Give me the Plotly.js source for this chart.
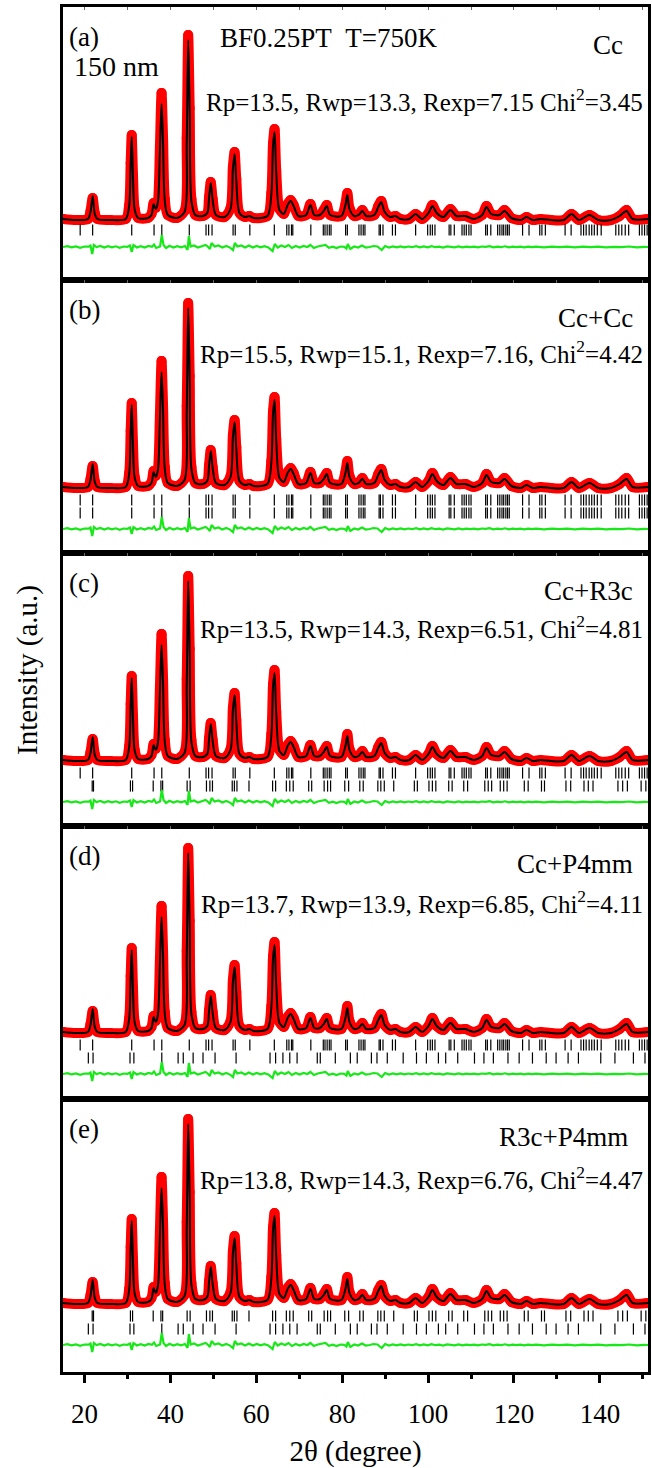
<!DOCTYPE html>
<html>
<head>
<meta charset="utf-8">
<script src="https://cdn.plot.ly/plotly-3.0.1.min.js"></script>
<style>html,body{margin:0;padding:0;background:#fff;}#chart{width:652px;height:1468px;}</style>
</head>
<body>
<div id="chart"></div>
<script>
// ---------------- DATA ----------------
const obsX = [15.0,18.0,20.8,21.4,21.9,22.4,23.0,26.0,29.6,30.4,30.75,31.0,31.3,31.7,32.5,34.8,35.6,36.1,36.6,37.1,37.55,37.95,38.3,38.7,39.4,41.5,43.3,43.8,44.15,44.5,44.9,45.8,47.6,48.6,49.0,49.4,49.85,50.6,52.6,54.0,54.55,54.95,55.35,56.1,57.4,58.4,59.4,62.6,63.5,63.9,64.25,64.65,65.4,66.4,67.3,68.0,68.7,69.8,71.6,72.6,73.5,74.8,75.7,76.4,77.2,79.8,80.7,81.2,81.7,82.8,83.8,84.7,85.6,87.5,88.4,89.1,89.9,91.2,92.4,93.6,95.6,97.1,98.6,100.1,101.0,102.0,103.6,105.2,106.6,108.7,110.6,112.6,113.6,114.7,116.6,117.8,119.4,121.6,122.9,124.4,126.2,128.6,131.6,133.4,135.1,137.6,139.6,142.6,144.6,146.2,147.6,151.2];
const obsY = [4,3,4,12,25,10,4,3,4,18,60,88,48,14,5,5,9,20,15,22,75,130,85,24,8,5,12,85,188,115,24,8,7,10,26,41,24,8,6,15,56,71,44,10,6,7,5,7,30,80,94,52,14,9,19,23,18,7,8,19,8,8,13,18,8,7,18,30,15,7,8,13,7,8,17,22,11,6,7,4,4,9,4,10,18,10,6,14,7,7,4,8,17,9,8,13,5,3,6,3,4,3,3,9,3,8,3,3,7,13,4,4];
const calcY = [4,3,4,11,27,9,4,3,4,17,58,86,46,13,5,5,8,19,14,21,70,119,80,22,8,5,11,80,183,110,22,8,7,10,25,40,23,8,6,14,54,69,42,10,6,7,5,7,28,78,91,50,13,9,18,22,17,7,8,18,8,8,12,17,8,7,17,28,14,7,8,12,7,8,16,21,11,6,7,4,4,9,4,10,17,10,6,13,7,7,4,8,16,9,8,12,5,3,6,3,4,3,3,9,3,8,3,3,7,12,4,4];

const diffX = [15,16,17,18,19,20,21,21.4,21.8,22.2,22.8,23.7,24.6,25.5,26.4,27.3,28.2,29.1,30.0,30.6,31.0,31.4,32.2,33.1,34.0,34.9,35.7,36.2,36.7,37.6,38.0,38.4,39.0,39.8,40.7,41.6,42.5,43.4,44.0,44.3,44.7,45.5,46.4,47.3,48.2,48.8,49.2,49.6,50.3,51.2,52.1,53.0,53.9,54.6,55.0,55.6,56.5,57.4,58.3,59.2,60.1,61.0,61.9,62.8,63.8,64.3,65.0,65.8,66.7,67.5,68.3,69.2,70.1,71.0,71.9,72.6,73.4,74.3,75.2,76.1,76.9,77.8,78.7,79.6,80.5,81.0,81.3,81.9,82.8,83.7,84.6,85.5,86.4,87.3,88.2,89.2,90.0,90.9,91.8,92.7,93.6,94.5,95.4,96.3,97.2,98.1,99.0,99.9,100.8,101.7,102.6,103.5,104.4,105.3,106.2,107.1,108.0,108.9,109.8,110.7,111.6,112.5,113.4,114.3,115.2,116.1,117.0,117.9,118.8,119.7,120.6,121.5,122.4,123.3,124.2,125.1,127.0,128.8,130.6,132.4,134.2,136.0,137.8,139.6,141.4,143.2,145.0,146.8,148.6,150.4,151.2];
const diffY = [0,0.8,-0.4,0.6,-0.8,0.5,0.3,1.5,-7,2,0,1,-0.6,0.8,-0.3,0.7,-0.8,0.5,0.2,1.5,-5,2,-0.5,0.8,-0.6,1,0.2,2.5,-1,0.5,12,2,-1,1.2,-0.5,0.8,-0.4,1,-3,11,0.5,1.5,-0.5,1,2,0,-2,4,0.5,1.5,-0.5,1,-0.6,-3,4,0.5,1.5,-0.5,1.5,-0.5,1,-0.4,0.8,-0.5,-4,3,-0.5,1.5,0,2,-1,1,-0.5,1,0,2,-1,0.5,1.5,2,-0.8,0.4,-1,0.5,0.2,-1.5,3,-2,0.5,-0.5,1.5,-0.5,0,1,0.5,-3,1,-0.5,0.5,-0.4,0.6,-0.3,0.5,-0.2,0.8,-0.4,0.5,-0.3,0.9,-0.2,0.4,-0.5,0.6,0.2,-0.4,0.5,-0.3,0.4,-0.2,0.3,-0.4,0.5,0.2,0.8,-0.3,0.4,-0.2,0.7,-0.3,0.3,-0.2,0.4,-0.3,0.3,-0.2,0.3,-0.3,0.3,-0.2,0.4,-0.3,0.3,-0.2,0.3,-0.3,0.2,-0.2,0.5,-0.3,0.2,0];

const braggCc = [19.0,21.9,31.0,36.2,38.0,44.4,48.3,48.9,49.7,54.6,55.1,58.5,64.2,67.1,67.6,68.2,68.5,72.7,75.6,76.0,76.5,77.0,77.4,80.8,81.2,83.9,84.4,84.9,85.3,88.6,88.9,89.5,91.7,92.4,97.1,99.9,100.5,101.0,101.6,104.9,105.3,106.1,107.9,108.4,108.9,109.5,110.0,113.4,113.8,114.6,116.2,116.7,117.2,117.6,118.1,118.5,118.9,122.0,123.5,126.0,126.5,127.3,131.9,133.3,135.6,136.2,136.8,137.5,138.1,138.7,139.4,140.3,143.7,144.4,145.1,145.9,146.7,149.2,149.8,150.4,151.0];
const braggR3c = [21.8,22.1,30.7,31.2,36.0,37.8,38.2,43.9,44.6,48.4,49.2,49.8,54.4,54.9,55.5,58.3,63.8,64.5,67.0,67.8,68.6,72.2,72.9,75.8,76.6,77.3,80.6,81.5,84.1,84.9,88.3,89.0,89.8,92.0,96.8,97.5,100.2,101.0,101.8,104.8,105.6,108.3,109.2,113.2,114.0,114.8,116.8,117.6,118.4,122.4,123.3,126.4,127.1,132.1,133.2,136.3,137.3,138.4,144.2,145.3,146.4,149.6,150.7];
const braggP4mm = [20.9,22.0,30.6,31.5,38.0,41.8,43.0,45.3,47.6,50.4,55.3,63.2,64.5,66.2,67.8,69.5,74.2,74.9,78.4,81.9,83.5,86.8,88.1,90.5,94.2,97.3,99.6,102.4,104.1,106.9,110.8,113.0,115.2,118.6,121.2,124.3,127.5,129.8,132.6,135.0,140.2,143.5,147.8,150.5];

const panelLetters = ['(a)','(b)','(c)','(d)','(e)'];
const phaseLabels = ['Cc','Cc+Cc','Cc+R3c','Cc+P4mm','R3c+P4mm'];
const fitStats = [
  'Rp=13.5, Rwp=13.3, Rexp=7.15 Chi<sup>2</sup>=3.45',
  'Rp=15.5, Rwp=15.1, Rexp=7.16, Chi<sup>2</sup>=4.42',
  'Rp=13.5, Rwp=14.3, Rexp=6.51, Chi<sup>2</sup>=4.81',
  'Rp=13.7, Rwp=13.9, Rexp=6.85, Chi<sup>2</sup>=4.11',
  'Rp=13.8, Rwp=14.3, Rexp=6.76, Chi<sup>2</sup>=4.47'
];
const panelPhases = [[braggCc],[braggCc,braggCc],[braggCc,braggR3c],[braggCc,braggP4mm],[braggR3c,braggP4mm]];
const xTickVals = [20,40,60,80,100,120,140];

// ---------------- LAYOUT / STYLE ----------------
const FONT = '"Liberation Serif", "Times New Roman", serif';
const yRanges = [[-57,216],[-62,211],[-62,211],[-63,210],[-65,208]];
const statsY = [93,72,74,76,79];     // px below panel top
const phaseRight = [0.961,0.978,0.978,0.978,0.97];
const N = 5;
const traces = [];
const layout = {
  width:652, height:1468, margin:{l:63,r:4,t:7,b:96},
  paper_bgcolor:'#fff', plot_bgcolor:'#fff', showlegend:false,
  font:{family:FONT,color:'#000'}, annotations:[]
};

for (let i=0;i<N;i++){
  const sfx = i===0 ? '' : String(i+1);
  const xa = 'x'+sfx, ya = 'y'+sfx;
  const top = 1 - i/N, bot = 1 - (i+1)/N;
  const last = (i===N-1);
  const two = panelPhases[i].length === 2;
  const tickOff = two ? [-9,-22] : [-7];
  const greenOff = two ? -38 : -24;

  traces.push({x:obsX, y:obsY, xaxis:xa, yaxis:ya, type:'scatter', mode:'lines+markers',
    line:{color:'#ff0000', width:10, shape:'spline', smoothing:0.8},
    marker:{color:'#ff0000', size:10}, hoverinfo:'skip'});
  traces.push({x:obsX, y:calcY, xaxis:xa, yaxis:ya, type:'scatter', mode:'lines',
    line:{color:'#000', width:2, shape:'spline', smoothing:0.8}, hoverinfo:'skip'});
  panelPhases[i].forEach((ph,k)=>{
    traces.push({x:ph, y:ph.map(()=>tickOff[k]), xaxis:xa, yaxis:ya, type:'scatter', mode:'markers',
      marker:{symbol:'line-ns', size:8, line:{width:1.2,color:'#000'}}, hoverinfo:'skip'});
  });
  traces.push({x:diffX, y:diffY.map(v=>v+greenOff), xaxis:xa, yaxis:ya, type:'scatter', mode:'lines',
    line:{color:'#18e818', width:2.2}, hoverinfo:'skip'});

  const xaxis = {
    domain:[0,1], anchor:ya, range:[15,151.2],
    showline:true, linewidth:3, linecolor:'#000', showgrid:false, zeroline:false,
  };
  if (i>0) xaxis.matches = 'x';
  if (last){
    Object.assign(xaxis,{mirror:true, ticks:'outside', tickvals:xTickVals, ticktext:xTickVals.map(String),
      ticklen:8, tickwidth:3, tickcolor:'#000', showticklabels:true, ticklabelstandoff:8,
      tickfont:{family:FONT,size:27,color:'#000'},
      minor:{tickvals:[30,50,70,90,110,130,150], ticks:'outside', ticklen:4, tickwidth:3, tickcolor:'#000'},
      title:{text:'2θ (degree)', font:{family:FONT,size:29,color:'#000'}, standoff:18}});
  } else {
    Object.assign(xaxis,{mirror:'ticks', ticks:'inside', dtick:10, tick0:0, ticklen:3, tickwidth:1,
      tickcolor:'#666', showticklabels:false});
  }
  layout['xaxis'+sfx] = xaxis;
  layout['yaxis'+sfx] = {domain:[bot, top], anchor:xa, range:yRanges[i], showline:true, linewidth:3,
    linecolor:'#000', mirror:true, ticks:'', showticklabels:false, showgrid:false, zeroline:false};

  const hpx = 1365/N;
  layout.annotations.push({xref:xa+' domain', yref:ya+' domain', x:0.007, y:1-30/hpx, xanchor:'left', yanchor:'middle',
    text:panelLetters[i], showarrow:false, font:{family:FONT,size:27,color:'#000'}});
  layout.annotations.push({xref:xa+' domain', yref:ya+' domain', x:phaseRight[i], y:1-38/hpx, xanchor:'right', yanchor:'middle',
    text:phaseLabels[i], showarrow:false, font:{family:FONT,size:27,color:'#000'}});
  layout.annotations.push({xref:xa+' domain', yref:ya+' domain', x:0.995, y:1-statsY[i]/hpx, xanchor:'right', yanchor:'middle',
    text:fitStats[i], showarrow:false, font:{family:FONT,size:25,color:'#000'}});
  if (i===0){
    layout.annotations.push({xref:xa+' domain', yref:ya+' domain', x:(72-63)/585, y:1-60/hpx, xanchor:'left', yanchor:'middle',
      text:'150 nm', showarrow:false, font:{family:FONT,size:28,color:'#000'}});
    layout.annotations.push({xref:xa+' domain', yref:ya+' domain', x:(218-63)/585, y:1-31/hpx, xanchor:'left', yanchor:'middle',
      text:'BF0.25PT&nbsp;&nbsp;T=750K', showarrow:false, font:{family:FONT,size:27,color:'#000'}});
  }
}
layout.annotations.push({xref:'paper', yref:'paper', x:(27-63)/585, y:(1372-670)/1365, xanchor:'center', yanchor:'middle',
  textangle:-90, text:'Intensity (a.u.)', showarrow:false, font:{family:FONT,size:29,color:'#000'}});

Plotly.newPlot('chart', traces, layout, {staticPlot:true, displayModeBar:false});
</script>
</body>
</html>
